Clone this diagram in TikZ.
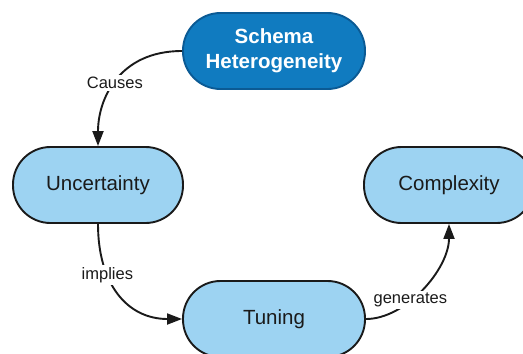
\documentclass[tikz,border=0pt]{standalone}
\usepackage{fontspec}
\setmainfont{Liberation Sans}
\usetikzlibrary{arrows.meta}
\definecolor{lightfill}{HTML}{9DD3F2}
\definecolor{darkfill}{HTML}{107BC0}
\definecolor{darkborder}{HTML}{0B5A94}
\definecolor{inkc}{HTML}{1A1A1A}
\tikzset{
  concept/.style={draw=inkc, line width=1.9pt, fill=lightfill, rounded corners=37.5pt,
    minimum width=170pt, minimum height=76pt, inner sep=0pt, text=inkc,
    font=\fontsize{20.5pt}{24pt}\selectfont},
  mainconcept/.style={concept, draw=darkborder, fill=darkfill, minimum width=182pt, text=white,
    align=center, font=\fontsize{20.5pt}{25pt}\selectfont\bfseries},
  wideconcept/.style={concept, minimum width=182pt},
  link/.style={draw=inkc, line width=1.9pt, -{Triangle[length=15pt,width=11pt]}},
  linklabel/.style={fill=white, text=inkc, inner sep=2pt, font=\fontsize{16.5pt}{19pt}\selectfont}
}
\begin{document}
\begin{tikzpicture}[x=1pt, y=-1pt]
\useasboundingbox (0,0) rectangle (523,354);
\clip (0,0) rectangle (523,354);
\node[mainconcept] (schema) at (274,51) {Schema\\Heterogeneity};
\node[concept] (unc) at (98,185) {Uncertainty};
\node[concept] (comp) at (449,185) {Complexity};
\node[wideconcept] (tun) at (274,319) {Tuning};
\draw[link] (schema.west) .. controls +(-63,0) and +(0,-47) .. node[linklabel, pos=0.52] (lc) {Causes} (unc.north);
\draw[link] (unc.south) .. controls +(0,60) and +(-55,0) .. node[linklabel, pos=0.33] (li) {implies} (tun.west);
\draw[link] (tun.east) .. controls +(40,0) and +(0,45) .. node[linklabel, pos=0.38] (lg) {generates} (comp.south);
\end{tikzpicture}
\end{document}
